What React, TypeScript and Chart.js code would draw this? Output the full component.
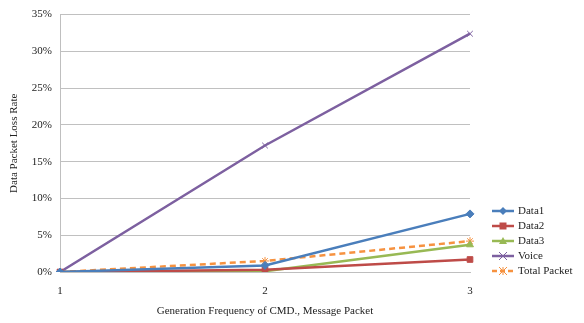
import React, { useEffect, useRef } from "react";
import { Chart, registerables } from "chart.js";

Chart.register(...registerables);

const categories = ["1", "2", "3"];
const data1 = [0, 0.9, 7.9];
const data2 = [0, 0.3, 1.7];
const data3 = [0, 0.1, 3.7];
const voice = [0, 17.2, 32.4];
const totalPacket = [0, 1.5, 4.2];
const yTicks = [0, 5, 10, 15, 20, 25, 30, 35];

const FONT = "'Liberation Serif', 'Times New Roman', serif";

type Series = {
  label: string;
  data: number[];
  color: string;
  pointStyle: string;
  dashed?: boolean;
};

const series: Series[] = [
  { label: "Data1", data: data1, color: "#4a7ebb", pointStyle: "rectRot" },
  { label: "Data2", data: data2, color: "#be4b48", pointStyle: "rect" },
  { label: "Data3", data: data3, color: "#98b954", pointStyle: "triangle" },
  { label: "Voice", data: voice, color: "#7d60a0", pointStyle: "crossRot" },
  { label: "Total Packet", data: totalPacket, color: "#f69240", pointStyle: "star", dashed: true },
];

function drawMarker(ctx: CanvasRenderingContext2D, style: string, x: number, y: number, color: string) {
  ctx.save();
  ctx.fillStyle = color;
  ctx.strokeStyle = color;
  ctx.lineWidth = 1;
  ctx.setLineDash([]);
  const r = 4;
  ctx.beginPath();
  if (style === "rectRot") {
    ctx.moveTo(x, y - r);
    ctx.lineTo(x + r, y);
    ctx.lineTo(x, y + r);
    ctx.lineTo(x - r, y);
    ctx.closePath();
    ctx.fill();
  } else if (style === "rect") {
    ctx.rect(x - 3.5, y - 3.5, 7, 7);
    ctx.fill();
  } else if (style === "triangle") {
    ctx.moveTo(x, y - r);
    ctx.lineTo(x + r, y + 3);
    ctx.lineTo(x - r, y + 3);
    ctx.closePath();
    ctx.fill();
  } else if (style === "crossRot") {
    ctx.moveTo(x - r, y - r);
    ctx.lineTo(x + r, y + r);
    ctx.moveTo(x + r, y - r);
    ctx.lineTo(x - r, y + r);
    ctx.stroke();
  } else {
    ctx.moveTo(x - r, y - r);
    ctx.lineTo(x + r, y + r);
    ctx.moveTo(x + r, y - r);
    ctx.lineTo(x - r, y + r);
    ctx.moveTo(x, y - r);
    ctx.lineTo(x, y + r);
    ctx.stroke();
  }
  ctx.restore();
}

// Legend on the right: line sample with the series marker, then its name
const sideLegend = {
  id: "sideLegend",
  afterDraw(chart: any) {
    const ctx = chart.ctx as CanvasRenderingContext2D;
    const x0 = 492;
    const yStart = 211;
    const step = 15;
    ctx.save();
    series.forEach((s, i) => {
      const y = yStart + i * step;
      ctx.strokeStyle = s.color;
      ctx.lineWidth = 2.5;
      ctx.setLineDash(s.dashed ? [5, 3] : []);
      ctx.beginPath();
      ctx.moveTo(x0, y);
      ctx.lineTo(x0 + 22, y);
      ctx.stroke();
      drawMarker(ctx, s.pointStyle, x0 + 11, y, s.color);
      ctx.fillStyle = "#222";
      ctx.font = `11px ${FONT}`;
      ctx.textBaseline = "middle";
      ctx.textAlign = "left";
      ctx.fillText(s.label, x0 + 26, y);
    });
    ctx.restore();
  },
};

export default function App() {
  const ref = useRef<HTMLCanvasElement | null>(null);

  useEffect(() => {
    if (!ref.current) return;
    const chart = new Chart(ref.current, {
      type: "line",
      data: {
        labels: categories,
        datasets: series.map((s) => ({
          label: s.label,
          data: s.data,
          borderColor: s.color,
          backgroundColor: s.color,
          borderWidth: 2.5,
          borderDash: s.dashed ? [6, 4] : [],
          pointStyle: s.pointStyle as any,
          pointRadius: 4,
          pointBorderWidth: 1,
          pointBorderColor: s.color,
          pointBackgroundColor: s.color,
          tension: 0,
          fill: false,
        })),
      },
      options: {
        animation: false,
        responsive: true,
        maintainAspectRatio: false,
        layout: { padding: { left: 0, top: 12, right: 114, bottom: 0 } },
        plugins: {
          legend: { display: false },
          tooltip: { enabled: false },
        },
        scales: {
          x: {
            offset: false,
            grid: { display: false, drawTicks: false },
            border: { color: "#bfbfbf", width: 1 },
            ticks: {
              color: "#222",
              font: { family: FONT, size: 11 },
              padding: 13,
            },
            title: {
              display: true,
              text: "Generation Frequency of CMD., Message Packet",
              color: "#222",
              font: { family: FONT, size: 11 },
              padding: { top: 4, bottom: 5 },
            },
            afterFit: (scale: any) => {
              scale.height = 51;
            },
          },
          y: {
            min: 0,
            max: 35,
            afterBuildTicks: (scale: any) => {
              scale.ticks = yTicks.map((v) => ({ value: v }));
            },
            grid: { color: "#c0c0c0", drawTicks: false, lineWidth: 1 },
            border: { color: "#bfbfbf", width: 1 },
            ticks: {
              color: "#222",
              font: { family: FONT, size: 11 },
              padding: 8,
              callback: (v: any) => `${v}%`,
            },
            title: {
              display: true,
              text: "Data Packet Loss Rate",
              color: "#222",
              font: { family: FONT, size: 11 },
              padding: { top: 8, bottom: 0 },
            },
            afterFit: (scale: any) => {
              scale.width = 60;
            },
          },
        },
      },
      plugins: [sideLegend],
    });
    return () => chart.destroy();
  }, []);

  return (
    <div style={{ position: "fixed", left: 0, top: 0, width: 584, height: 323, background: "#fff" }}>
      <canvas ref={ref} />
    </div>
  );
}
